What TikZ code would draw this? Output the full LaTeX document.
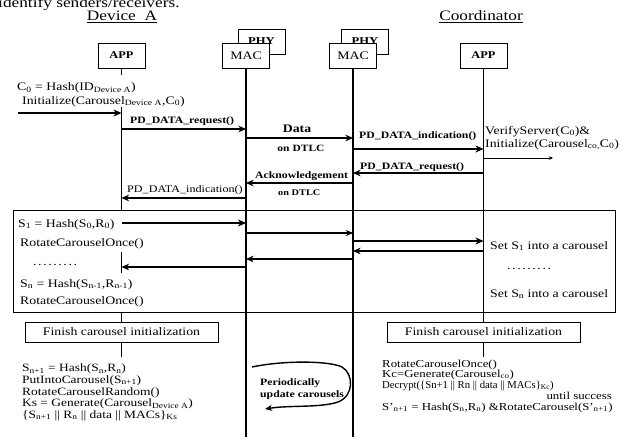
\documentclass[tikz,border=0pt]{standalone}
\usepackage{fontspec}
\setmainfont{Liberation Serif}[FakeStretch=1.2]
\newfontfamily\plainserif{Liberation Serif}
\usetikzlibrary{arrows.meta}

\newcommand{\dotrow}{.\kern1.6pt.\kern1.6pt.\kern1.6pt.\kern1.6pt.\kern1.6pt.\kern1.6pt.\kern1.6pt.\kern1.6pt.}

\begin{document}
\begin{tikzpicture}[x=1pt,y=-1pt,
  actor/.style={draw, line width=0.9pt, fill=white, minimum width=47pt, minimum height=25pt, inner sep=0pt},
  finbox/.style={draw, line width=0.9pt, fill=white, minimum width=193pt, minimum height=20pt, inner sep=0pt,
                 font=\fontsize{11.5}{11.5}\selectfont},
  life/.style={line width=1.1pt},
  txt/.style={inner sep=0pt, anchor=base west, font=\fontsize{11.5}{11.5}\selectfont},
  btxt/.style={inner sep=0pt, anchor=base west, font=\fontsize{11.2}{11.2}\selectfont},
  rtxt/.style={inner sep=0pt, anchor=base west, font=\fontsize{10.7}{10.7}\selectfont},
  lbl/.style={inner sep=0pt, anchor=base west, font=\fontsize{9.8}{10}\selectfont\bfseries},
  heavy/.style={line width=2.2pt, -{Stealth[length=8pt,width=7pt,inset=2.5pt]}},
  medium/.style={line width=1.7pt, -{Stealth[length=7.5pt,width=6.5pt,inset=2.2pt]}},
  light/.style={line width=1.1pt, -{Stealth[length=7pt,width=6pt,inset=2pt]}},
  hair/.style={line width=0.7pt, -{Stealth[length=4pt,width=3.5pt,inset=1pt]}}]

\useasboundingbox (0,0) rectangle (627,444);
\clip (0,0) rectangle (627,444);

% running text above the figure
\node[inner sep=0pt, anchor=base west, font=\fontsize{14.4}{14.4}\selectfont] (intro) at (-2,7.5) {identify senders/receivers.};

% headings
\node[inner sep=0pt, anchor=base, font=\fontsize{14.4}{14.4}\selectfont] (devA) at (122,21) {\underline{Device\ \ A}};
\node[inner sep=0pt, anchor=base, font=\fontsize{14.4}{14.4}\selectfont] (coord) at (481,21) {\underline{Coordinator}};

% protocol layers
\node[actor, font=\fontsize{10.5}{10.5}\selectfont\bfseries] (phyL) at (261.5,41.5) {PHY};
\node[actor, font=\fontsize{10.5}{10.5}\selectfont\bfseries] (phyR) at (365,41.5) {PHY};
\node[actor, font=\fontsize{10.3}{10.3}\selectfont\bfseries] (appL) at (121.5,55.5) {APP};
\node[actor, font=\fontsize{11.5}{11.5}\selectfont] (macL) at (246,55.5) {MAC};
\node[actor, font=\fontsize{11.5}{11.5}\selectfont] (macR) at (353,55.5) {MAC};
\node[actor, font=\fontsize{10.3}{10.3}\selectfont\bfseries] (appR) at (483.5,55.5) {APP};

% carousel set-up frame and closing boxes
\node[draw, line width=1.2pt, minimum width=602pt, minimum height=102pt, inner sep=0pt, anchor=north west] (setup) at (13,210) {};
\node[finbox] (finL) at (121.5,332) {Finish carousel initialization};
\node[finbox] (finR) at (483.5,332) {Finish carousel initialization};

% lifelines
\draw[life] (appL.south) -- (appL |- 0,75);
\draw[life] (appL |- 0,107) -- (appL |- setup.north);
\draw[life] (appL |- 0,252) -- (appL |- 0,273);
\draw[life] (appL |- setup.south) -- (finL.north);
\draw[life] (finL.south) -- (finL |- 0,357);
\draw[life] (macL.south) -- (macL |- 0,437);
\draw[life] (macR.south) -- (macR |- 0,437);
\draw[life] (appR.south) -- (finR.north);
\draw[life] (finR.south) -- (finR |- 0,357);

% association request
\node[txt] (c0) at (17,91) {C\textsubscript{0} = Hash(ID\textsubscript{Device A})};
\node[txt] (init) at (22,104) {Initialize(Carousel\textsubscript{Device A},C\textsubscript{0})};
\coordinate (inStart) at (18,113);
\draw[heavy] (inStart) -- (appL |- inStart);

\node[lbl] (req1) at (130,124) {PD\_DATA\_request()};
\draw[medium] (appL |- 0,129) -- (macL |- 0,129);

\node[inner sep=0pt, anchor=base, font=\fontsize{11.5}{11.5}\selectfont\bfseries] (data) at (297,132) {Data};
\node[inner sep=0pt, anchor=base, font=\fontsize{9.6}{9.6}\selectfont\bfseries] (dtlc1) at (301,151) {on DTLC};
\draw[medium] (macL |- 0,138) -- (macR |- 0,138);

\node[lbl] (ind1) at (359,139) {PD\_DATA\_indication()};
\draw[heavy] (macR |- 0,149) -- (appR |- 0,149);

\node[txt] (verify) at (485,134) {VerifyServer(C\textsubscript{0})\&};
\node[txt] (initc) at (485,147) {Initialize(Carousel\textsubscript{co,}C\textsubscript{0})};
\coordinate (verEnd) at (553,158);
\draw[hair] (appR |- verEnd) -- (verEnd);

\node[lbl] (req2) at (360,169) {PD\_DATA\_request()};
\draw[medium] (appR |- 0,173) -- (macR |- 0,173);

\node[lbl] (ack) at (255,178) {Acknowledgement};
\draw[medium] (macR |- 0,183) -- (macL |- 0,183);
\node[inner sep=0pt, anchor=base west, font=\fontsize{8.6}{8.6}\selectfont\bfseries] (dtlc2) at (278,195.5) {on DTLC};

\node[txt, font=\fontsize{10.1}{10.1}\selectfont] (ind2) at (127,192) {PD\_DATA\_indication()};
\draw[medium] (macL |- 0,198) -- (appL |- 0,198);

% carousel initialisation exchange
\node[txt] (s1) at (18,227) {S\textsubscript{1} = Hash(S\textsubscript{0},R\textsubscript{0})};
\node[txt] (rot1) at (20,246) {RotateCarouselOnce()};
\node[txt] (dotsL) at (33,265) {\dotrow};
\node[txt] (sn) at (20,287) {S\textsubscript{n} = Hash(S\textsubscript{n-1},R\textsubscript{n-1})};
\node[txt] (rot2) at (20,304) {RotateCarouselOnce()};

\node[txt] (set1) at (490,249) {Set S\textsubscript{1} into a carousel};
\node[txt] (dotsR) at (507,269) {\dotrow};
\node[txt] (setn) at (490,297) {Set S\textsubscript{n} into a carousel};

\draw[heavy]  (appL |- 0,223) -- (macL |- 0,223);
\draw[light]  (macL |- 0,233) -- (macR |- 0,233);
\draw[heavy]  (macR |- 0,241) -- (appR |- 0,241);
\draw[medium] (appR |- 0,251) -- (macR |- 0,251);
\draw[medium] (macR |- 0,259) -- (macL |- 0,259);
\draw[medium] (macL |- 0,267) -- (appL |- 0,267);

% device side: data transmission
\node[btxt] (d1) at (22,371.5) {S\textsubscript{n+1} = Hash(S\textsubscript{n},R\textsubscript{n})};
\node[btxt] (d2) at (22,383) {PutIntoCarousel(S\textsubscript{n+1})};
\node[btxt] (d3) at (22,395) {RotateCarouselRandom()};
\node[btxt] (d4) at (22,406.5) {Ks = Generate(Carousel\textsubscript{Device A})};
\node[btxt] (d5) at (22,418) {\{S\textsubscript{n+1} || R\textsubscript{n} || data || MACs\}\textsubscript{Ks}};

% coordinator side: reception
\node[rtxt] (c1) at (382,367) {RotateCarouselOnce()};
\node[rtxt] (c2) at (382,377) {Kc=Generate(Carousel\textsubscript{co})};
\node[rtxt] (c3) at (382,388) {\plainserif Decrypt(\{Sn+1 || Rn || data || MACs\}\textsubscript{Kc})};
\node[rtxt, anchor=base east] (c4) at (612,399) {until success};
\node[rtxt] (c5) at (382,410) {S’\textsubscript{n+1} = Hash(S\textsubscript{n},R\textsubscript{n}) \&RotateCarousel(S’\textsubscript{n+1})};

% periodic update loop
\coordinate (lpA) at (252,367);
\coordinate (lpB) at (342,367);
\coordinate (lpC) at (338,402);
\coordinate (lpD) at (265,409);
\draw[line width=1.4pt, -{Stealth[length=7pt,width=6pt,inset=2pt]}]
  (lpA) .. controls (285,360) and (330,361) .. (lpB)
        .. controls (354,374) and (354,396) .. (lpC)
        .. controls (320,408) and (290,405) .. (lpD);
\node[lbl] (per1) at (260,385) {Periodically};
\node[lbl] (per2) at (260,397) {update carousels};

\end{tikzpicture}
\end{document}
